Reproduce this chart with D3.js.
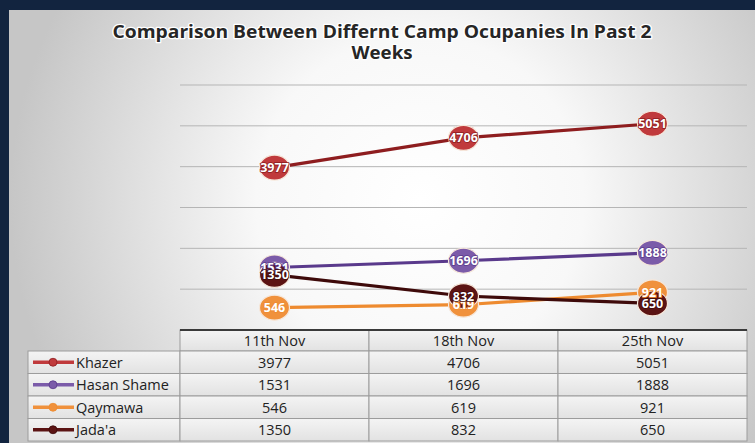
<!DOCTYPE html>
<html>
<head>
<meta charset="utf-8">
<script src="https://cdn.jsdelivr.net/npm/d3@7"></script>
<style>
  html, body { margin: 0; padding: 0; background: #12243f; }
  svg { display: block; }
</style>
</head>
<body>
<svg id="chart"></svg>
<script>

// data
const dates = ["11th Nov", "18th Nov", "25th Nov"];
const camps = ["Khazer", "Hasan Shame", "Qaymawa", "Jada'a"];
const khazer = [3977, 4706, 5051];
const hasanShame = [1531, 1696, 1888];
const qaymawa = [546, 619, 921];
const jadaa = [1350, 832, 650];
const yTicks = [0, 1000, 2000, 3000, 4000, 5000, 6000];

const seriesValues = [khazer, hasanShame, qaymawa, jadaa];
const markerColors = ["#c03a3c", "#7b5ba9", "#f0913c", "#5c1414"];
const lineColors = ["#8e1d1f", "#5a3a8c", "#ee8b30", "#3e0a0a"];

const width = 755;
const height = 443;
const font = "'Open Sans', Lato, sans-serif";

const svg = d3.select("#chart")
    .attr("width", width)
    .attr("height", height);

const defs = svg.append("defs");

const bg = defs.append("radialGradient")
    .attr("id", "bg")
    .attr("gradientUnits", "userSpaceOnUse")
    .attr("cx", 420).attr("cy", 200).attr("r", 410);
bg.append("stop").attr("offset", "0%").attr("stop-color", "#ffffff");
bg.append("stop").attr("offset", "40%").attr("stop-color", "#f8f8f8");
bg.append("stop").attr("offset", "100%").attr("stop-color", "#c6c6c6");

const cellGrad = defs.append("linearGradient")
    .attr("id", "cell")
    .attr("x1", 0).attr("y1", 0).attr("x2", 0).attr("y2", 1);
cellGrad.append("stop").attr("offset", "0%").attr("stop-color", "#f4f4f4");
cellGrad.append("stop").attr("offset", "100%").attr("stop-color", "#e2e2e2");

// navy frame on top and left, chart area is the rest
svg.append("rect")
    .attr("x", 0).attr("y", 0)
    .attr("width", width).attr("height", height)
    .attr("fill", "#12243f");

svg.append("rect")
    .attr("x", 9).attr("y", 10)
    .attr("width", width - 9).attr("height", height - 10)
    .attr("fill", "url(#bg)");

// title
const title = svg.append("text")
    .attr("text-anchor", "middle")
    .attr("font-family", font)
    .attr("font-weight", "bold")
    .attr("font-size", 17)
    .attr("fill", "#262626")
    .attr("stroke", "#ffffff")
    .attr("stroke-width", 2.5)
    .attr("paint-order", "stroke")
    .attr("stroke-linejoin", "round");

title.append("tspan").attr("x", 382).attr("y", 38)
    .attr("textLength", 539)
    .attr("lengthAdjust", "spacingAndGlyphs")
    .text("Comparison Between Differnt Camp Ocupanies In Past 2");
title.append("tspan").attr("x", 382).attr("y", 59)
    .attr("textLength", 61)
    .attr("lengthAdjust", "spacingAndGlyphs")
    .text("Weeks");

// scales
const x = d3.scaleBand()
    .domain(dates)
    .range([180, 747]);

const y = d3.scaleLinear()
    .domain([0, 6000])
    .range([330, 85]);

const cx = (d, j) => x(dates[j]) + x.bandwidth() / 2;

// gridlines
svg.append("g")
    .selectAll("line")
    .data(yTicks.slice(1))
    .join("line")
    .attr("x1", x.range()[0])
    .attr("x2", x.range()[1])
    .attr("y1", d => y(d))
    .attr("y2", d => y(d))
    .attr("stroke", "#b5b5b5")
    .attr("stroke-width", 1);

// data table
const legendLeft = 28;
const headerTop = y(0);
const headerH = 21;
const rowH = 22.5;

const table = svg.append("g")
    .attr("font-family", font)
    .attr("font-size", 14.5)
    .attr("fill", "#222");

// header cells
table.selectAll("rect.head")
    .data(dates)
    .join("rect")
    .attr("class", "head")
    .attr("x", d => x(d))
    .attr("y", headerTop)
    .attr("width", x.bandwidth())
    .attr("height", headerH)
    .attr("fill", "url(#cell)")
    .attr("stroke", "#9c9c9c");

table.selectAll("text.head")
    .data(dates)
    .join("text")
    .attr("class", "head")
    .attr("x", d => x(d) + x.bandwidth() / 2)
    .attr("y", headerTop + 16)
    .attr("text-anchor", "middle")
    .attr("fill", "#222")
    .text(d => d);

// body rows
camps.forEach((camp, i) => {
    const top = headerTop + headerH + i * rowH;

    table.append("rect")
        .attr("x", legendLeft)
        .attr("y", top)
        .attr("width", x.range()[0] - legendLeft)
        .attr("height", rowH)
        .attr("fill", "url(#cell)")
        .attr("stroke", "#9c9c9c");

    table.append("line")
        .attr("x1", legendLeft + 5)
        .attr("x2", legendLeft + 46)
        .attr("y1", top + rowH / 2)
        .attr("y2", top + rowH / 2)
        .attr("stroke", markerColors[i])
        .attr("stroke-width", 3.5);

    table.append("circle")
        .attr("cx", legendLeft + 25)
        .attr("cy", top + rowH / 2)
        .attr("r", 4)
        .attr("fill", markerColors[i])
        .attr("stroke", lineColors[i])
        .attr("stroke-width", 0.8);

    table.append("text")
        .attr("x", legendLeft + 48)
        .attr("y", top + 16.5)
        .attr("fill", "#222")
        .text(camp);

    dates.forEach((date, j) => {
        table.append("rect")
            .attr("x", x(date))
            .attr("y", top)
            .attr("width", x.bandwidth())
            .attr("height", rowH)
            .attr("fill", "url(#cell)")
            .attr("stroke", "#9c9c9c");

        table.append("text")
            .attr("x", x(date) + x.bandwidth() / 2)
            .attr("y", top + 16.5)
            .attr("text-anchor", "middle")
            .attr("fill", "#222")
            .text(seriesValues[i][j]);
    });
});

// axis line on top of the table
svg.append("line")
    .attr("x1", x.range()[0])
    .attr("x2", x.range()[1])
    .attr("y1", y(0))
    .attr("y2", y(0))
    .attr("stroke", "#3a3a3a")
    .attr("stroke-width", 2);

// lines and markers
const line = d3.line()
    .x(cx)
    .y(d => y(d));

seriesValues.forEach((values, i) => {
    const g = svg.append("g");

    g.append("path")
        .datum(values)
        .attr("d", line)
        .attr("fill", "none")
        .attr("stroke", lineColors[i])
        .attr("stroke-width", 3.2);

    g.selectAll("ellipse")
        .data(values)
        .join("ellipse")
        .attr("cx", cx)
        .attr("cy", d => y(d))
        .attr("rx", 15)
        .attr("ry", 12.5)
        .attr("fill", markerColors[i])
        .attr("stroke", "#f6e7da")
        .attr("stroke-width", 1.2);
});

// data labels drawn above every series, like the original
seriesValues.forEach((values, i) => {
    svg.append("g")
        .selectAll("text")
        .data(values)
        .join("text")
        .attr("x", cx)
        .attr("y", d => y(d) + 4.5)
        .attr("text-anchor", "middle")
        .attr("font-family", font)
        .attr("font-weight", "bold")
        .attr("font-size", 12.5)
        .attr("fill", "#ffffff")
        .attr("stroke", lineColors[i])
        .attr("stroke-width", 1.6)
        .attr("paint-order", "stroke")
        .text(d => d);
});

</script>
</body>
</html>
